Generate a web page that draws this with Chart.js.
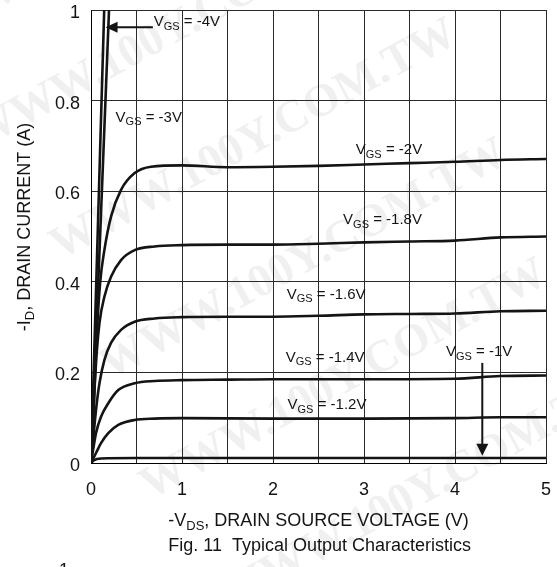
<!DOCTYPE html>
<html>
<head>
<meta charset="utf-8">
<script src="https://cdn.jsdelivr.net/npm/chart.js@4.4.1/dist/chart.umd.min.js"></script>
<style>
  html, body { margin: 0; padding: 0; background: #fff; }
  #wrap { width: 557px; height: 567px; }
</style>
</head>
<body>
<div id="wrap"><canvas id="chart" width="557" height="567"></canvas></div>
<script>
// curves: -VDS (V) and -ID (A) per gate voltage
const vds4 = [0, 0.145];
const id4 = [0, 1];
const vds3 = [0, 0.1, 0.198];
const id3 = [0, 0.5, 1];
const vds20 = [0, 0.025, 0.055, 0.1, 0.147, 0.22, 0.33, 0.48, 0.66, 1, 1.5, 2, 2.5, 3, 3.5, 4, 4.5, 5];
const id20 = [0, 0.1, 0.25, 0.397, 0.47, 0.544, 0.603, 0.64, 0.654, 0.657, 0.653, 0.654, 0.656, 0.659, 0.662, 0.665, 0.669, 0.671];
const vds18 = [0, 0.055, 0.093, 0.147, 0.22, 0.33, 0.48, 0.7, 1, 1.5, 2, 2.5, 3, 3.5, 4, 4.5, 5];
const id18 = [0, 0.22, 0.309, 0.367, 0.411, 0.448, 0.47, 0.478, 0.481, 0.482, 0.482, 0.484, 0.487, 0.489, 0.491, 0.498, 0.5];
const vds16 = [0, 0.055, 0.093, 0.147, 0.22, 0.33, 0.48, 0.7, 1, 1.5, 2, 2.5, 3, 3.5, 4, 4.5, 5];
const id16 = [0, 0.117, 0.176, 0.227, 0.265, 0.294, 0.312, 0.319, 0.322, 0.323, 0.323, 0.325, 0.328, 0.329, 0.33, 0.335, 0.336];
const vds14 = [0, 0.055, 0.11, 0.19, 0.3, 0.48, 0.7, 1, 1.5, 2, 3, 4, 4.5, 5];
const id14 = [0, 0.066, 0.102, 0.132, 0.161, 0.176, 0.181, 0.183, 0.184, 0.185, 0.185, 0.186, 0.192, 0.193];
const vds12 = [0, 0.055, 0.11, 0.19, 0.3, 0.48, 0.7, 1, 2, 3, 4, 4.5, 5];
const id12 = [0, 0.022, 0.044, 0.066, 0.084, 0.095, 0.098, 0.099, 0.098, 0.098, 0.099, 0.101, 0.101];
const vds10 = [0, 0.03, 0.11, 0.5, 1, 2, 3, 4, 5];
const id10 = [0, 0.006, 0.01, 0.011, 0.011, 0.011, 0.011, 0.011, 0.011];

const yTicks = ['0', '0.2', '0.4', '0.6', '0.8', '1'];
const xTicks = ['0', '1', '2', '3', '4', '5'];

// curve labels: gate voltage text and where it sits (data units, left edge / middle)
const labelText = ['-4V', '-3V', '-2V', '-1.8V', '-1.6V', '-1.4V', '-1.2V', '-1V'];
const labelX = [0.69, 0.27, 2.91, 2.77, 2.15, 2.14, 2.16, 3.9];
const labelY = [0.973, 0.762, 0.691, 0.536, 0.371, 0.232, 0.128, 0.245];

const FONT = '"Liberation Sans", Arial, Helvetica, sans-serif';
const INK = '#141414';

function pts(xs, ys) {
    return xs.map((x, i) => ({ x: x, y: ys[i] }));
}

const curves = [
    [vds4, id4], [vds3, id3], [vds20, id20], [vds18, id18],
    [vds16, id16], [vds14, id14], [vds12, id12], [vds10, id10]
];

const datasets = curves.map((c, i) => ({
    label: 'VGS = ' + labelText[i],
    data: pts(c[0], c[1]),
    borderColor: INK,
    borderWidth: 2.6,
    pointRadius: 0,
    fill: false,
    cubicInterpolationMode: 'monotone'
}));

// white page + faint watermark
const paper = {
    id: 'paper',
    beforeDraw(chart) {
        const ctx = chart.ctx;
        ctx.save();
        ctx.fillStyle = '#fff';
        ctx.fillRect(0, 0, chart.width, chart.height);
        ctx.fillStyle = '#f0f0f0';
        ctx.font = 'bold 46px "Liberation Serif", "DejaVu Serif", serif';
        ctx.textBaseline = 'alphabetic';
        const rows = [[-20, 150], [60, 260], [110, 380], [150, 500], [230, 610], [-60, 40]];
        rows.forEach(r => {
            ctx.save();
            ctx.translate(r[0], r[1]);
            ctx.rotate(-0.5);
            ctx.fillText('WWW.100Y.COM.TW', 0, 0);
            ctx.restore();
        });
        ctx.restore();
    }
};

// text with a subscript, e.g. V + GS + " = -2V"
function subText(ctx, x, y, main, sub, rest, size, align) {
    const big = size + 'px ' + FONT;
    const small = Math.round(size * 0.72) + 'px ' + FONT;
    ctx.font = big;
    const w1 = ctx.measureText(main).width;
    const w3 = ctx.measureText(rest).width;
    ctx.font = small;
    const w2 = ctx.measureText(sub).width;
    const total = w1 + w2 + w3;
    let x0 = x;
    if (align === 'center') x0 = x - total / 2;
    ctx.textAlign = 'left';
    ctx.textBaseline = 'middle';
    ctx.font = big;
    ctx.fillText(main, x0, y);
    ctx.font = small;
    ctx.fillText(sub, x0 + w1, y + size * 0.3);
    ctx.font = big;
    ctx.fillText(rest, x0 + w1 + w2, y);
    return { x0: x0, w: total };
}

function arrowHead(ctx, tx, ty, dx, dy, len, half) {
    // tip at (tx,ty), pointing along (dx,dy)
    const px = -dy, py = dx;
    ctx.beginPath();
    ctx.moveTo(tx, ty);
    ctx.lineTo(tx - dx * len + px * half, ty - dy * len + py * half);
    ctx.lineTo(tx - dx * len - px * half, ty - dy * len - py * half);
    ctx.closePath();
    ctx.fill();
}

const notes = {
    id: 'notes',
    afterDraw(chart) {
        const ctx = chart.ctx;
        const xs = chart.scales.x, ys = chart.scales.y;
        const ca = chart.chartArea;
        ctx.save();
        ctx.fillStyle = INK;
        ctx.strokeStyle = INK;

        // curve labels
        labelText.forEach((t, i) => {
            subText(ctx, xs.getPixelForValue(labelX[i]), ys.getPixelForValue(labelY[i]),
                'V', 'GS', ' = ' + t, 15, 'left');
        });

        // arrow to the -4V line
        const ay = ys.getPixelForValue(0.962);
        const ax0 = xs.getPixelForValue(0.68), ax1 = xs.getPixelForValue(0.16);
        ctx.lineWidth = 2;
        ctx.beginPath();
        ctx.moveTo(ax0, ay);
        ctx.lineTo(ax1 + 8, ay);
        ctx.stroke();
        arrowHead(ctx, ax1, ay, -1, 0, 12, 5.5);

        // arrow to the -1V line
        const bx = xs.getPixelForValue(4.3);
        const by0 = ys.getPixelForValue(0.221), by1 = ys.getPixelForValue(0.016);
        ctx.beginPath();
        ctx.moveTo(bx, by0);
        ctx.lineTo(bx, by1 - 8);
        ctx.stroke();
        arrowHead(ctx, bx, by1, 0, 1, 12, 6);

        // axis titles
        const midX = (ca.left + ca.right) / 2;
        const t = subText(ctx, midX, 521, '-V', 'DS', ', DRAIN SOURCE VOLTAGE (V)', 18, 'center');
        ctx.font = '18px ' + FONT;
        ctx.textBaseline = 'middle';
        ctx.textAlign = 'left';
        ctx.fillText('Fig. 11  Typical Output Characteristics', t.x0, 546);
        ctx.fillText('1', 59, 571);

        ctx.save();
        ctx.translate(25, 227);
        ctx.rotate(-Math.PI / 2);
        subText(ctx, 0, 0, '-I', 'D', ', DRAIN CURRENT (A)', 18, 'center');
        ctx.restore();

        ctx.restore();
    }
};

new Chart(document.getElementById('chart'), {
    type: 'line',
    data: { datasets: datasets },
    options: {
        responsive: false,
        animation: false,
        layout: { padding: { top: 10, right: 11, left: 0, bottom: 0 } },
        plugins: {
            legend: { display: false },
            tooltip: { enabled: false },
            title: { display: false }
        },
        scales: {
            x: {
                type: 'linear',
                min: 0,
                max: 5,
                afterFit: s => { s.height = 104; s.paddingLeft = 0; s.paddingRight = 0; },
                ticks: {
                    stepSize: 0.5,
                    autoSkip: false,
                    maxRotation: 0,
                    padding: 16,
                    color: INK,
                    font: { size: 18, family: FONT },
                    callback: v => Number.isInteger(v) ? xTicks[v] : ''
                },
                grid: { color: '#2a2a2a', lineWidth: 1, drawTicks: false },
                border: { color: '#000', width: 1 }
            },
            y: {
                min: 0,
                max: 1,
                afterFit: s => { s.width = 91; s.paddingTop = 0; s.paddingBottom = 0; },
                ticks: {
                    stepSize: 0.2,
                    padding: 11,
                    labelOffset: 3,
                    color: INK,
                    font: { size: 18, family: FONT },
                    callback: v => yTicks[Math.round(v * 5)]
                },
                grid: { color: '#2a2a2a', lineWidth: 1, drawTicks: false },
                border: { color: '#000', width: 1 }
            }
        }
    },
    plugins: [paper, notes]
});
</script>
</body>
</html>
